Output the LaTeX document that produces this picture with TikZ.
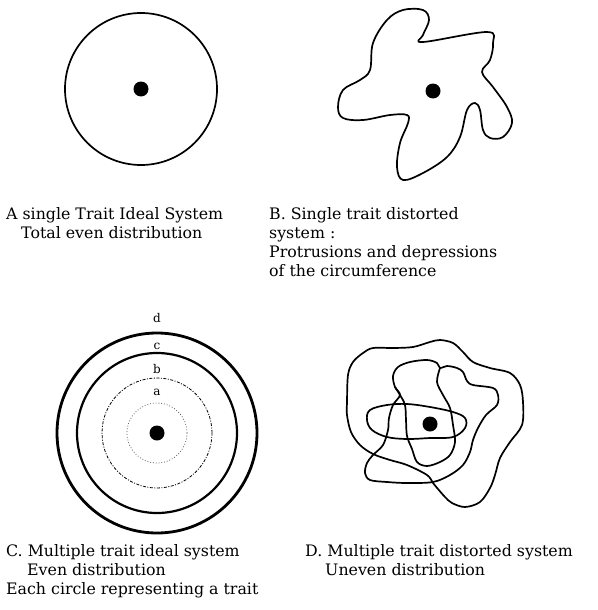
\documentclass[tikz,border=0pt]{standalone}
\usepackage{fontspec}
\setmainfont{DejaVu Serif}
\usetikzlibrary{positioning}
\tikzset{
  rim/.style={draw, line width=1.7pt, line join=round},
  spot/.style={circle, fill, inner sep=0pt, minimum size=15pt},
  captxt/.style={font=\fontsize{15.8}{19}\selectfont, align=left, inner sep=0pt,
              anchor=north west},
  lbl/.style={font=\fontsize{12}{12}\selectfont, inner sep=0pt},
}

\begin{document}
\begin{tikzpicture}[x=1pt,y=-1pt]
  \useasboundingbox (0,0) rectangle (597,610);
  % A: single trait, ideal
  \node[spot] (ca) at (141,89) {};
  \draw[rim] (ca) circle[radius=76pt];
  % B: single trait, distorted
  \node[spot] (cb) at (433,91) {};
  \draw[rim] plot[smooth cycle, tension=0.6] coordinates {
    (423,42) (487,32) (493,43) (490,60) (482,72) (493,87) (507,107) (512,123)
    (503,137) (490,138) (483,130) (480,110) (475,103) (467,110) (460,137)
    (447,157) (423,173) (403,180) (397,167) (400,143) (408,123) (407,115)
    (390,115) (363,120) (343,118) (338,107) (343,90) (360,80) (370,70)
    (373,43) (387,20) (403,10) (423,10) (429,20) (423,35)};
  % C: several traits, ideal
  \node[spot] (cc) at (157,433) {};
  \draw[line width=2.8pt] (cc) circle[radius=100pt];
  \draw[line width=2.2pt] (cc) circle[radius=80pt];
  \draw[line width=0.8pt, dash pattern=on 3pt off 1.5pt on 1pt off 1.5pt]
    (cc) circle[radius=55pt];
  \draw[line width=0.8pt, black!65, dotted] (cc) circle[radius=30pt];
  \node[lbl] (ld) at (157,318) {d};
  \node[lbl] (lc) at (157,346) {c};
  \node[lbl] (lb) at (157,369) {b};
  \node[lbl] (la) at (157,392) {a};
  % D: several traits, distorted
  \node[spot] (cd) at (430,424) {};
  \draw[rim] plot[smooth cycle, tension=0.55] coordinates {
    (347,415) (347,402) (348,375) (353,362) (363,353) (373,348) (393,348)
    (413,347) (430,342) (440,340) (453,343) (463,352) (473,362) (490,368)
    (510,373) (520,385) (523,402) (522,425) (510,442) (500,458) (495,475)
    (490,488) (480,502) (465,507) (452,503) (445,497) (438,489) (433,483)
    (427,475) (407,465) (390,460) (373,454) (360,445) (351,432)};
  \draw[rim] plot[smooth cycle, tension=0.55] coordinates {
    (440,368) (437,363) (427,360) (410,362) (398,367) (393,376) (395,387)
    (400,395) (393,405) (389,418) (388,430) (383,445) (373,455) (367,463)
    (365,473) (370,480) (387,482) (407,483) (433,482) (450,475) (463,465)
    (470,452) (473,440) (478,428) (486,415) (497,405) (498,395) (493,388)
    (473,385) (467,381) (463,372) (457,368) (447,366)};
  \draw[rim] plot[smooth, tension=0.55] coordinates {
    (440,368) (437,382) (443,395) (450,408) (453,425) (455,442) (450,455)
    (440,462) (427,466) (417,462) (412,449) (407,436) (406,420) (405,405)
    (400,395) (395,387)};
  \draw[rim] plot[smooth cycle, tension=0.6] coordinates {
    (370,410) (387,405) (407,404) (430,407) (453,412) (465,418) (465,428)
    (453,437) (430,438) (407,439) (387,437) (372,430) (367,420)};
  % captions
  \node[captxt] (ta) at (6,207) {A single Trait Ideal System\\
    \hspace*{15pt}Total even distribution};
  \node[captxt] (tb) at (269,207) {B. Single trait distorted\\system :\\
    Protrusions and depressions\\of the circumference};
  \node[captxt] (tc) at (6,544) {C. Multiple trait ideal system\\
    \hspace*{21pt}Even distribution\\Each circle representing a trait};
  \node[captxt] (td) at (305,544) {D. Multiple trait distorted system\\
    \hspace*{20pt}Uneven distribution};
\end{tikzpicture}
\end{document}
